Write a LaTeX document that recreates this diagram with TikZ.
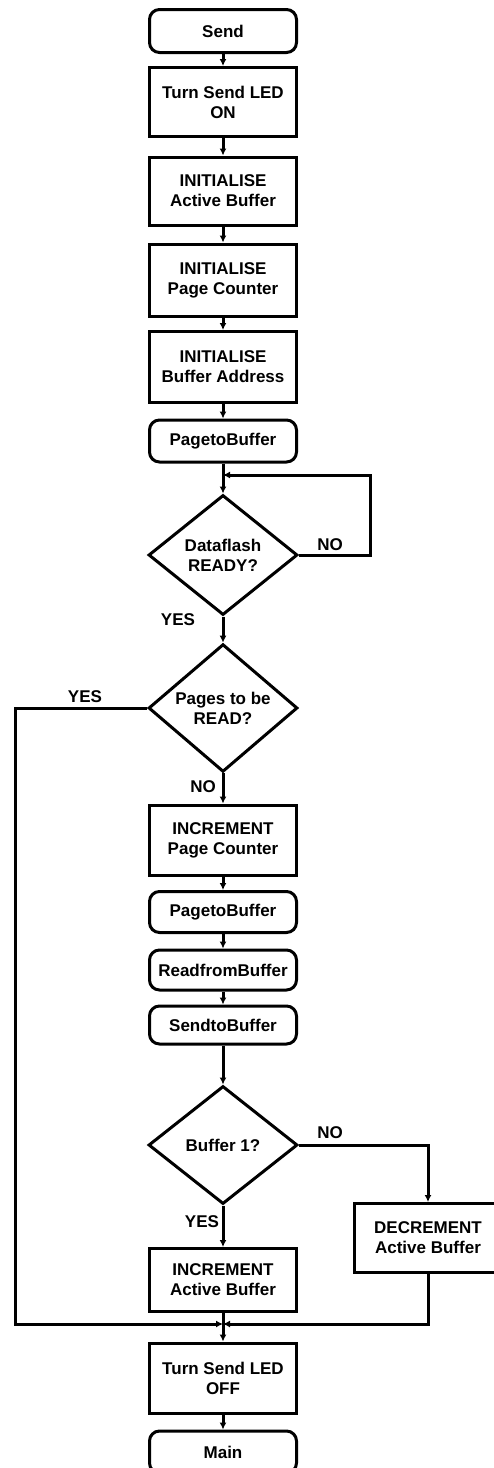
\documentclass[tikz,border=0pt]{standalone}
\usepackage{fontspec}
\setmainfont{Liberation Sans}
\usetikzlibrary{arrows.meta, positioning, shapes.geometric}

\begin{document}
\begin{tikzpicture}[x=1pt, y=-1pt, line width=3pt,
	every node/.style={font=\bfseries\fontsize{17}{20}\selectfont, align=center},
	proc/.style={draw, rectangle, minimum width=147pt, inner sep=2pt},
	term/.style={draw, rectangle, rounded corners=10pt, minimum width=147pt, inner sep=2pt},
	dec/.style={draw, diamond, minimum width=149pt, minimum height=120pt, inner sep=0pt},
	flow/.style={-{Latex[length=7pt, width=7pt]}}]
	\useasboundingbox (0,0) rectangle (493,1468);
	
	% main column
	\node[term, minimum height=43pt] (send) at (223,31) {Send};
	\node[proc, minimum height=69pt] (ledon) at (223,102) {Turn Send LED\\ON};
	\node[proc, minimum height=68pt] (initbuf) at (223,191) {INITIALISE\\Active Buffer};
	\node[proc, minimum height=72pt] (initpage) at (223,280) {INITIALISE\\Page Counter};
	\node[proc, minimum height=71pt] (initaddr) at (223,367) {INITIALISE\\Buffer Address};
	\node[term, minimum height=42pt] (pagebuf) at (223,441) {PagetoBuffer};
	\node[dec] (ready) at (223,555) {Dataflash\\READY?};
	\node[dec, minimum height=124pt] (pages) at (223,708) {Pages to be\\READ?};
	\node[proc, minimum height=70pt] (incpage) at (223,840) {INCREMENT\\Page Counter};
	\node[term, minimum height=41pt] (pagebuf2) at (223,912) {PagetoBuffer};
	\node[term, minimum height=40pt] (readbuf) at (223,970) {ReadfromBuffer};
	\node[term, minimum height=38pt] (sendbuf) at (223,1025) {SendtoBuffer};
	\node[dec, minimum height=118pt] (buf1) at (223,1145) {Buffer 1?};
	\node[proc, minimum height=63pt] (incact) at (223,1280) {INCREMENT\\Active Buffer};
	\node[proc, minimum height=69pt] (decact) at (428,1238) {DECREMENT\\Active Buffer};
	\node[proc, minimum height=70pt] (ledoff) at (223,1378) {Turn Send LED\\OFF};
	\node[term, minimum height=42pt] (main) at (223,1452) {Main};
	
	% branch labels
	\node (noready) at (330,545) {NO};
	\node (yesready) at (178,620) {YES};
	\node (yespages) at (85,697) {YES};
	\node (nopages) at (203,787) {NO};
	\node (nobuf) at (330,1133) {NO};
	\node (yesbuf) at (202,1222) {YES};
	
	% bends and joins
	\coordinate (join) at (223,475);
	\coordinate (loopr) at (370,475);
	\coordinate (loopl) at (15,1324);
	\coordinate (merge) at (223,1324);
	
	\draw[flow] (send) -- (ledon);
	\draw[flow] (ledon) -- (initbuf);
	\draw[flow] (initbuf) -- (initpage);
	\draw[flow] (initpage) -- (initaddr);
	\draw[flow] (initaddr) -- (pagebuf);
	\draw (pagebuf) -- (join);
	\draw[flow] (join) -- (ready);
	\draw[flow] (ready.east) -| (loopr) -- (join);
	%
	\draw[flow] (ready) -- (pages);
	\draw[flow] (pages.west) -| (loopl) -- (merge);
	\draw[flow] (pages) -- (incpage);
	\draw[flow] (incpage) -- (pagebuf2);
	\draw[flow] (pagebuf2) -- (readbuf);
	\draw[flow] (readbuf) -- (sendbuf);
	\draw[flow] (sendbuf) -- (buf1);
	%
	\draw[flow] (buf1.east) -| (decact);
	\draw[flow] (buf1) -- (incact);
	\draw (incact) -- (merge);
	\draw[flow] (decact) |- (merge);
	\draw[flow] (merge) -- (ledoff);
	\draw[flow] (ledoff) -- (main);
\end{tikzpicture}
\end{document}
